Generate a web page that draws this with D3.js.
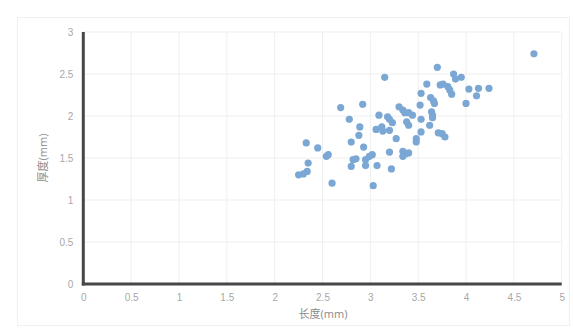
<!DOCTYPE html>
<html>
<head>
<meta charset="utf-8">
<script src="https://cdn.jsdelivr.net/npm/d3@7"></script>
<style>
  body { margin: 0; background: #fff; }
  svg { display: block; font-family: "Open Sans", "Noto Sans CJK SC", sans-serif; }
</style>
</head>
<body>
<div id="chart"></div>
<script>
// 长度 (x) and 厚度 (y), in mm
const lengths = [4.71, 3.70, 3.87, 3.89, 3.95, 3.15, 3.59, 3.73, 3.76, 3.81,
  3.83, 3.85, 4.03, 4.13, 4.24, 4.11, 3.53, 3.63, 3.66, 3.67,
  4.00, 3.52, 2.92, 2.69, 3.30, 3.34, 3.36, 3.40, 3.44, 3.64,
  3.65, 3.65, 2.78, 3.09, 3.18, 3.20, 3.23, 3.53, 3.38, 3.40,
  3.62, 2.89, 3.06, 3.12, 3.13, 3.20, 3.53, 3.71, 3.75, 3.78,
  2.88, 3.27, 3.48, 3.48, 2.80, 2.33, 2.45, 2.93, 3.20, 3.34,
  3.37, 3.40, 3.34, 2.54, 2.56, 2.82, 2.85, 2.95, 2.99, 3.02,
  2.35, 2.80, 2.95, 3.07, 3.22, 2.25, 2.30, 2.34, 2.60, 3.03]
const thicknesses = [2.74, 2.58, 2.50, 2.44, 2.46, 2.46, 2.38, 2.37, 2.38, 2.35,
  2.31, 2.26, 2.32, 2.33, 2.33, 2.24, 2.27, 2.22, 2.18, 2.15,
  2.15, 2.13, 2.14, 2.10, 2.11, 2.07, 2.04, 2.04, 2.01, 2.05,
  2.01, 1.98, 1.96, 2.01, 1.99, 1.96, 1.92, 1.96, 1.93, 1.89,
  1.89, 1.87, 1.84, 1.87, 1.82, 1.83, 1.81, 1.80, 1.79, 1.75,
  1.77, 1.73, 1.73, 1.69, 1.69, 1.68, 1.62, 1.63, 1.57, 1.58,
  1.55, 1.56, 1.52, 1.52, 1.54, 1.48, 1.49, 1.48, 1.52, 1.54,
  1.44, 1.40, 1.41, 1.41, 1.37, 1.30, 1.31, 1.34, 1.20, 1.17]
const xTicks = [0, 0.5, 1, 1.5, 2, 2.5, 3, 3.5, 4, 4.5, 5]
const yTicks = [0, 0.5, 1, 1.5, 2, 2.5, 3]
const xTitle = "长度(mm)"
const yTitle = "厚度(mm)"

const width = 573
const height = 328

const svg = d3.select("#chart").append("svg")
  .attr("width", width)
  .attr("height", height)

const x = d3.scaleLinear().domain([0, 5]).range([83.3, 561.7])
const y = d3.scaleLinear().domain([0, 3]).range([284, 32])

// faint outer frame
svg.append("rect")
  .attr("x", 17.5).attr("y", 17.5)
  .attr("width", 552).attr("height", 308)
  .attr("fill", "none").attr("stroke", "#f1f1f1")

// gridlines
svg.append("g")
  .selectAll("line.v")
  .data(xTicks.slice(1))
  .join("line")
  .attr("x1", d => x(d)).attr("x2", d => x(d))
  .attr("y1", y(0)).attr("y2", y(3))
  .attr("stroke", "#efefef")

svg.append("g")
  .selectAll("line.h")
  .data(yTicks.slice(1))
  .join("line")
  .attr("x1", x(0)).attr("x2", x(5))
  .attr("y1", d => y(d)).attr("y2", d => y(d))
  .attr("stroke", "#efefef")

// axes
const xAxis = svg.append("g")
  .attr("transform", `translate(0,${y(0)})`)
  .call(d3.axisBottom(x).tickValues(xTicks).tickSize(0).tickPadding(10).tickFormat(d3.format("")))
const yAxis = svg.append("g")
  .attr("transform", `translate(${x(0)},0)`)
  .call(d3.axisLeft(y).tickValues(yTicks).tickSize(0).tickPadding(10).tickFormat(d3.format("")))

;[xAxis, yAxis].forEach(g => {
  g.select(".domain").attr("stroke", "#474747").attr("stroke-width", 3)
  g.selectAll("text").attr("fill", "#a8a8a8").attr("font-size", 10)
})
xAxis.select(".domain").attr("d", `M${x(0) - 1.5},0H${x(5)}`)
yAxis.select(".domain").attr("d", `M0,${y(3)}V${y(0) + 1.5}`)

// points
svg.append("g")
  .selectAll("circle")
  .data(lengths.map((d, i) => [d, thicknesses[i]]))
  .join("circle")
  .attr("cx", d => x(d[0]))
  .attr("cy", d => y(d[1]))
  .attr("r", 3.6)
  .attr("fill", "#7aa7d4")

// titles
svg.append("text")
  .attr("x", (x(0) + x(5)) / 2 + 0.5)
  .attr("y", 318)
  .attr("text-anchor", "middle")
  .attr("font-size", 11)
  .attr("fill", "#8a8a8a")
  .text(xTitle)

svg.append("text")
  .attr("transform", `translate(47,${(y(0) + y(3)) / 2}) rotate(-90)`)
  .attr("text-anchor", "middle")
  .attr("font-size", 11)
  .attr("fill", "#8a8a8a")
  .text(yTitle)
</script>
</body>
</html>
